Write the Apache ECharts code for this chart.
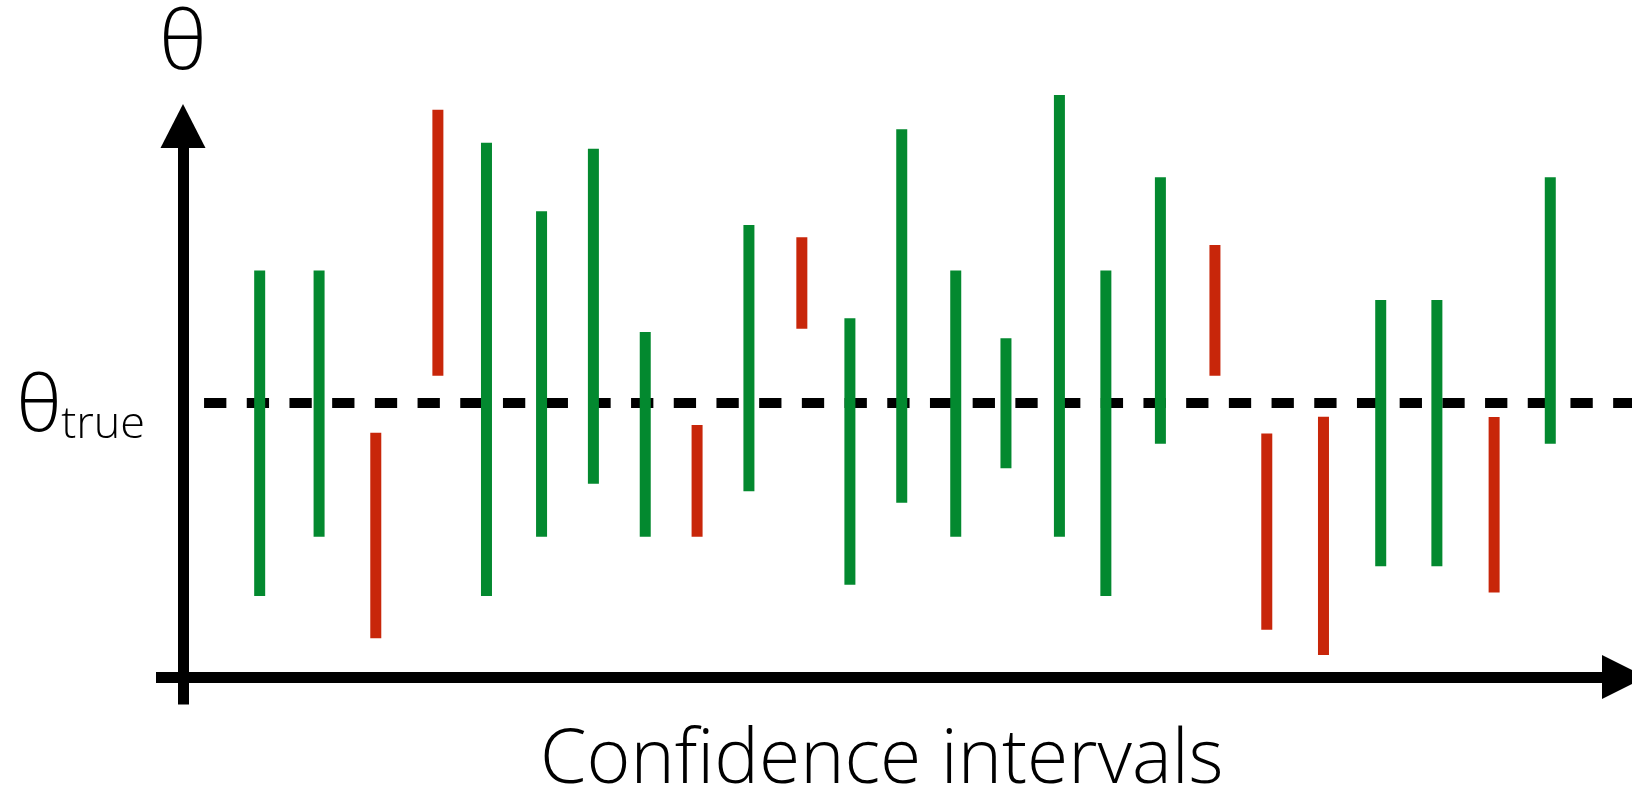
<!DOCTYPE html>
<html>
<head>
<meta charset="utf-8">
<title>Confidence intervals</title>
<script src="https://cdn.jsdelivr.net/npm/echarts@6/dist/echarts.min.js"></script>
<style>
  html, body { margin: 0; padding: 0; background: #ffffff; }
  #chart { width: 1632px; height: 789px; }
</style>
</head>
<body>
<div id="chart"></div>
<script>
// True parameter value (dashed reference line)
const THETA_TRUE = 10;

// Position of each interval along the horizontal axis
const positions = [1.42, 2.52, 3.57, 4.72, 5.62, 6.64, 7.60, 8.56, 9.52, 10.48,
                   11.46, 12.35, 13.31, 14.31, 15.24, 16.23, 17.09, 18.10, 19.11, 20.07,
                   21.12, 22.18, 23.22, 24.28, 25.32];

// Lower and upper bounds of each confidence interval
const lower = [2.96, 5.12, 1.41, 10.99, 2.96, 5.12, 7.05, 5.12, 5.12, 6.78,
               12.71, 3.37, 6.36, 5.12, 7.62, 5.12, 2.96, 8.51, 10.99, 1.72,
               0.80, 4.04, 4.04, 3.08, 8.51];
const upper = [14.84, 14.84, 8.91, 20.70, 19.50, 17.00, 19.28, 12.59, 9.20, 16.50,
               16.05, 13.09, 19.99, 14.84, 12.36, 21.24, 14.84, 18.24, 15.77, 8.89,
               9.50, 13.76, 13.76, 9.49, 18.24];

const COVER_COLOR = '#03892F';   // interval contains the true value
const MISS_COLOR = '#C8260A';    // interval misses the true value
const BAR_WIDTH = 11;
const FONT = '"Open Sans", Roboto, "Liberation Sans", sans-serif';

const intervals = positions.map((x, i) => [x, lower[i], upper[i]]);

const chart = echarts.init(document.getElementById('chart'), null, { renderer: 'canvas' });

chart.setOption({
  animation: false,
  backgroundColor: '#ffffff',
  grid: {
    left: 156, right: -3.6, top: 129, bottom: 84.6,
    containLabel: false, outerBoundsMode: 'none'
  },
  xAxis: {
    type: 'value',
    min: -0.5,
    max: 26.9,
    name: 'Confidence intervals',
    nameLocation: 'middle',
    nameGap: 20,
    nameMoveOverlap: false,
    nameTextStyle: {
      fontFamily: FONT, fontWeight: 300, fontSize: 75, lineHeight: 75,
      color: '#000', padding: [0, 28, 0, 0]
    },
    axisLine: {
      onZero: true,
      symbol: ['none', 'triangle'],
      symbolSize: [44, 44],
      symbolOffset: [0, -11.6],
      lineStyle: { color: '#000', width: 11, cap: 'butt' }
    },
    axisTick: { show: false },
    axisLabel: { show: false },
    splitLine: { show: false }
  },
  yAxis: {
    type: 'value',
    min: -1,
    max: 20,
    name: 'θ',
    nameLocation: 'end',
    nameGap: 42,
    nameMoveOverlap: false,
    nameTextStyle: {
      fontFamily: FONT, fontWeight: 300, fontSize: 82, lineHeight: 82, color: '#000'
    },
    axisLine: {
      onZero: true,
      symbol: ['none', 'triangle'],
      symbolSize: [45, 44],
      symbolOffset: [0, 3],
      lineStyle: { color: '#000', width: 11, cap: 'butt' }
    },
    axisTick: { show: false },
    axisLabel: { show: false },
    splitLine: { show: false }
  },
  series: [
    {
      // dashed line at the true value, drawn beneath the intervals
      type: 'line',
      data: [],
      clip: false,
      silent: true,
      z: 1,
      markLine: {
        silent: true,
        z: 1,
        symbol: ['none', 'none'],
        lineStyle: { color: '#000', width: 10, type: [22.3, 20.4], cap: 'butt' },
        label: {
          show: true,
          position: 'start',
          distance: 59,
          padding: [11, 0, 0, 0],
          formatter: '{a|θ}{b|true}',
          rich: {
            a: { fontFamily: FONT, fontWeight: 300, fontSize: 78, lineHeight: 78, color: '#000' },
            b: { fontFamily: FONT, fontWeight: 300, fontSize: 45, lineHeight: 45, color: '#000', verticalAlign: 'bottom' }
          }
        },
        data: [[{ coord: [0.39, THETA_TRUE] }, { coord: [26.9, THETA_TRUE] }]]
      }
    },
    {
      type: 'custom',
      z: 10,
      clip: false,
      silent: true,
      encode: { x: 0, y: [1, 2] },
      data: intervals,
      renderItem: function (params, api) {
        const x = api.value(0);
        const lo = api.value(1);
        const hi = api.value(2);
        const top = api.coord([x, hi]);
        const bottom = api.coord([x, lo]);
        const covers = lo <= THETA_TRUE && hi >= THETA_TRUE;
        return {
          type: 'rect',
          shape: { x: top[0] - BAR_WIDTH / 2, y: top[1], width: BAR_WIDTH, height: bottom[1] - top[1] },
          style: { fill: covers ? COVER_COLOR : MISS_COLOR }
        };
      }
    }
  ]
});
</script>
</body>
</html>
